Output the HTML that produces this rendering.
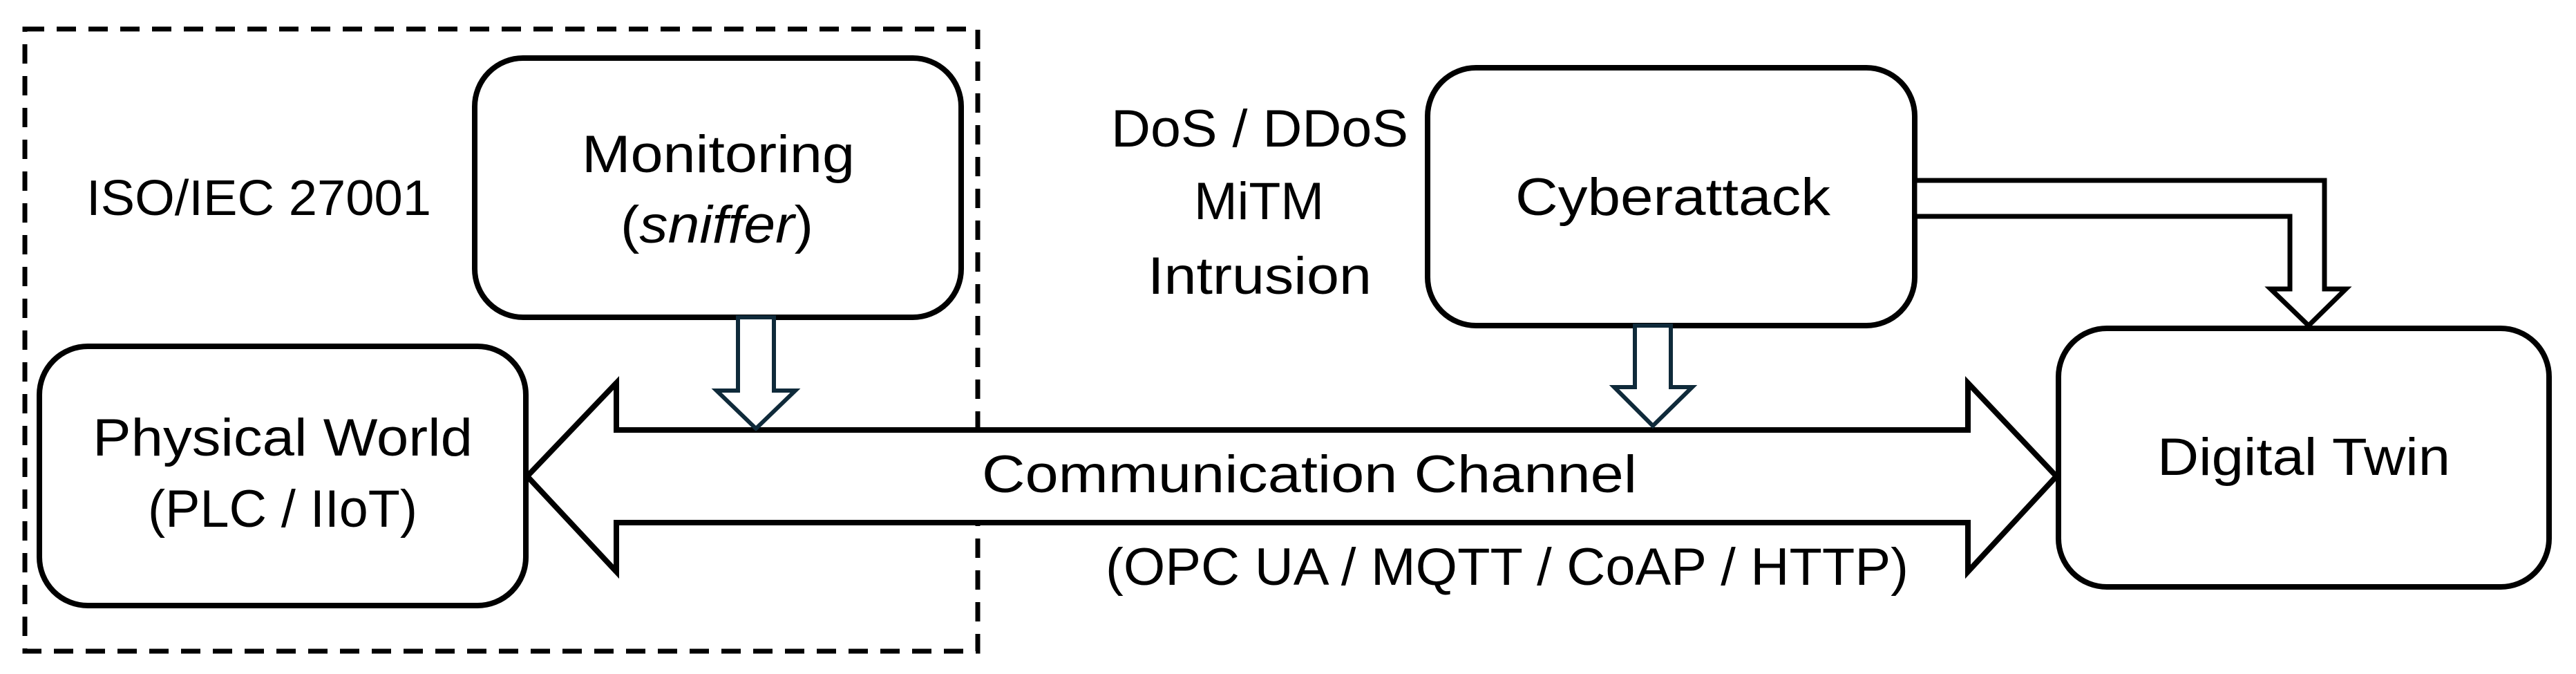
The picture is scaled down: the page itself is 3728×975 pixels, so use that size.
<!DOCTYPE html>
<html><head><meta charset="utf-8"><style>html,body{margin:0;padding:0;background:#fff;}svg{display:block}</style></head>
<body>
<svg width="3728" height="975" viewBox="0 0 3728 975" xmlns="http://www.w3.org/2000/svg">
<g fill="none" stroke="#000">
<rect x="36" y="42" width="1379" height="900" stroke-width="7" stroke-dasharray="28,18"/>
<rect x="687" y="84" width="704" height="375" rx="70" stroke-width="8"/>
<rect x="57" y="501" width="704" height="375" rx="70" stroke-width="8"/>
<rect x="2066" y="98" width="705" height="373" rx="70" stroke-width="8"/>
<rect x="2979" y="475" width="710" height="374" rx="70" stroke-width="8"/>
<polygon points="763,689 892,554 892,622 2848,622 2848,554 2976,689 2848,827 2848,756 892,756 892,827" stroke-width="8" fill="#fff" stroke-linejoin="miter"/>
<polygon points="1068,459 1120,459 1120,565 1151,565 1094,620 1037,565 1068,565" stroke="#0f2a3a" stroke-width="6" fill="#fff"/>
<polygon points="2366,471 2418,471 2418,560 2449,560 2392,616 2336,560 2366,560" stroke="#0f2a3a" stroke-width="6" fill="#fff"/>
<polygon points="2771,261 3364,261 3364,418 3395,418 3341,471 3286,418 3314,418 3314,313 2771,313" stroke-width="7" fill="#fff"/>
</g>
<g font-family="'Liberation Sans', sans-serif" fill="#000" font-size="76">
<text x="125" y="311" textLength="499" lengthAdjust="spacingAndGlyphs" font-size="72">ISO/IEC 27001</text>
<text x="842" y="249" textLength="395" lengthAdjust="spacingAndGlyphs">Monitoring</text>
<text x="898" y="351" textLength="279" lengthAdjust="spacingAndGlyphs">(<tspan font-style="italic">sniffer</tspan>)</text>
<text x="1608" y="212" textLength="430" lengthAdjust="spacingAndGlyphs">DoS / DDoS</text>
<text x="1728" y="317" textLength="188" lengthAdjust="spacingAndGlyphs">MiTM</text>
<text x="1661" y="425" textLength="324" lengthAdjust="spacingAndGlyphs">Intrusion</text>
<text x="2193" y="311" textLength="456" lengthAdjust="spacingAndGlyphs">Cyberattack</text>
<text x="134" y="659" textLength="550" lengthAdjust="spacingAndGlyphs">Physical World</text>
<text x="214" y="762" textLength="390" lengthAdjust="spacingAndGlyphs">(PLC / IIoT)</text>
<text x="1421" y="712" textLength="948" lengthAdjust="spacingAndGlyphs">Communication Channel</text>
<text x="1600" y="846" textLength="1162" lengthAdjust="spacingAndGlyphs">(OPC UA / MQTT / CoAP / HTTP)</text>
<text x="3122" y="687" textLength="424" lengthAdjust="spacingAndGlyphs">Digital Twin</text>
</g>
</svg>
</body></html>
